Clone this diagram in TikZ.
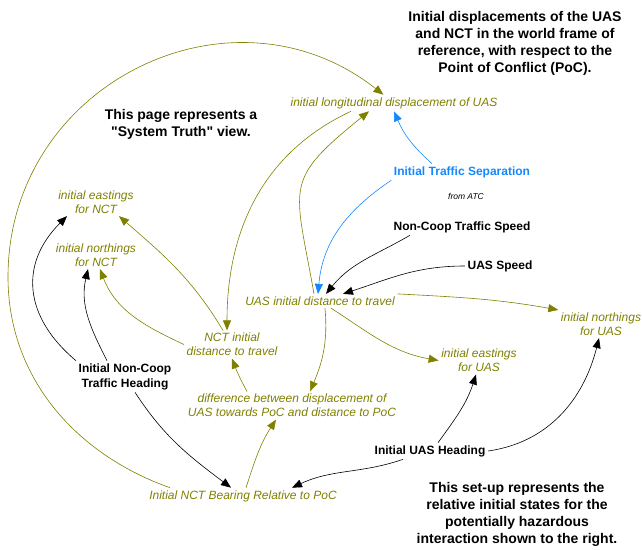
\documentclass[tikz,border=0pt]{standalone}
\usepackage{fontspec}
\setmainfont{Liberation Sans}[Ligatures=TeXOff]
\usetikzlibrary{positioning,arrows.meta}
\definecolor{varolive}{RGB}{128,128,0}
\definecolor{sepblue}{RGB}{20,135,255}

\begin{document}
\begin{tikzpicture}[x=1pt,y=1pt,
                       var node/.style={font=\fontsize{12}{14}\selectfont\itshape,text=varolive,align=center,inner sep=2.5pt},
                       input node/.style={font=\fontsize{12}{15}\selectfont\bfseries,align=center,inner sep=2.5pt},
                       note node/.style={font=\fontsize{14}{17.2}\selectfont\bfseries,align=center,inner sep=0pt},
                       link/.style={line width=0.6pt,-{Triangle[length=10pt,width=8pt]}},
                       olive link/.style={link,draw=varolive},
                       blue link/.style={link,draw=sepblue},
                       black link/.style={link,draw=black}
                      ]
  \useasboundingbox (0,0) rectangle (642,549);
  \node[note node] (title) at (515,505.5) {Initial displacements of the UAS\\and NCT in the world frame of\\reference, with respect to the\\Point of Conflict (PoC).};
  \node[note node] (truth) at (181,424.5) {This page represents a\\"System Truth" view.};
  \node[note node] (setup) at (517,34.5) {This set-up represents the\\relative initial states for the\\potentially hazardous\\interaction shown to the right.};
  \node[var node] (longdisp) at (394,446) {initial longitudinal displacement of UAS};
  \node[input node,text=sepblue] (sep) at (462,377) {Initial Traffic Separation};
  \node[font=\fontsize{8.5}{10}\selectfont\itshape] (atc) at (466,353) {from ATC};
  \node[input node] (ncspeed) at (462,322) {Non-Coop Traffic Speed};
  \node[input node] (uasspeed) at (500,283) {UAS Speed};
  \node[var node] (uasdist) at (320,248) {UAS initial distance to travel};
  \node[var node] (eastNCT) at (96,347) {initial eastings\\for NCT};
  \node[var node] (northNCT) at (96,294) {initial northings\\for NCT};
  \node[var node] (nctdist) at (232,204.5) {NCT initial\\distance to travel};
  \node[input node] (nchead) at (125,172.5) {Initial Non-Coop\\Traffic Heading};
  \node[var node] (diff) at (292,143.5) {difference between displacement of\\UAS towards PoC and distance to PoC};
  \node[var node] (bearing) at (243,53) {Initial NCT Bearing Relative to PoC};
  \node[input node] (uashead) at (430,98) {Initial UAS Heading};
  \node[var node] (eastUAS) at (479,188.5) {initial eastings\\for UAS};
  \node[var node] (northUAS) at (601,225) {initial northings\\for UAS};
  \draw[olive link] ([xshift=-73pt]bearing.north) .. controls (75,95) and (8,172) .. (8,272)
      .. controls (8,465) and (231,574) .. (longdisp);
    \path%
      ([xshift=-43pt]longdisp.south) edge [olive link,out=205,in=90] ([xshift=-5pt]nctdist.north)
      ([xshift=-6pt]uasdist.north) edge [olive link,out=100,in=219,looseness=1.5] ([xshift=-25pt]longdisp.south)
      ([xshift=-30pt]sep.north) edge [blue link,out=138,in=-67] (longdisp.south)
      (sep.south west) edge [blue link,out=214,in=85] ([xshift=-2pt]uasdist.north)
      ([xshift=-52pt]ncspeed.south) edge [black link,out=210,in=51] ([xshift=6pt]uasdist.north)
      (uasspeed.west) edge [black link,out=180,in=18] ([xshift=23pt]uasdist.north)
      (uasdist.north east) edge [olive link,out=-3,in=170] (northUAS.north west)
      ([xshift=11pt]uasdist.south) edge [olive link,out=-33,in=170] (eastUAS.west)
      ([xshift=5pt]uasdist.south) edge [olive link,out=-85,in=67] ([xshift=18pt]diff.north)
      ([xshift=-45pt]diff.north) edge [olive link,out=119,in=291] (nctdist.south)
      ([xshift=3pt]bearing.north) edge [olive link,out=72,in=237] ([xshift=-16pt]diff.south)
      ([xshift=-9pt]nctdist.north) edge [olive link,out=121,in=-41] ([xshift=23pt]eastNCT.south)
      (nctdist.west) edge [olive link,out=155,in=291] ([xshift=4pt]northNCT.south)
      (nchead.north west) edge [black link,out=140,in=225,looseness=1.2] ([xshift=-29pt]eastNCT.south)
      ([xshift=-18pt]nchead.north) edge [black link,out=117,in=257] ([xshift=-8pt]northNCT.south)
      ([xshift=10pt]nchead.south) edge [black link,out=-57,in=143] ([xshift=-12pt]bearing.north)
      ([xshift=-27pt]uashead.south) edge [black link,out=199,in=25] ([xshift=49pt]bearing.north)
      ([xshift=8pt]uashead.north) edge [black link,out=54,in=252] ([xshift=-3pt]eastUAS.south)
      (uashead.east) edge [black link,out=8,in=256] ([xshift=-2pt]northUAS.south);
   \end{tikzpicture}
\end{document}
